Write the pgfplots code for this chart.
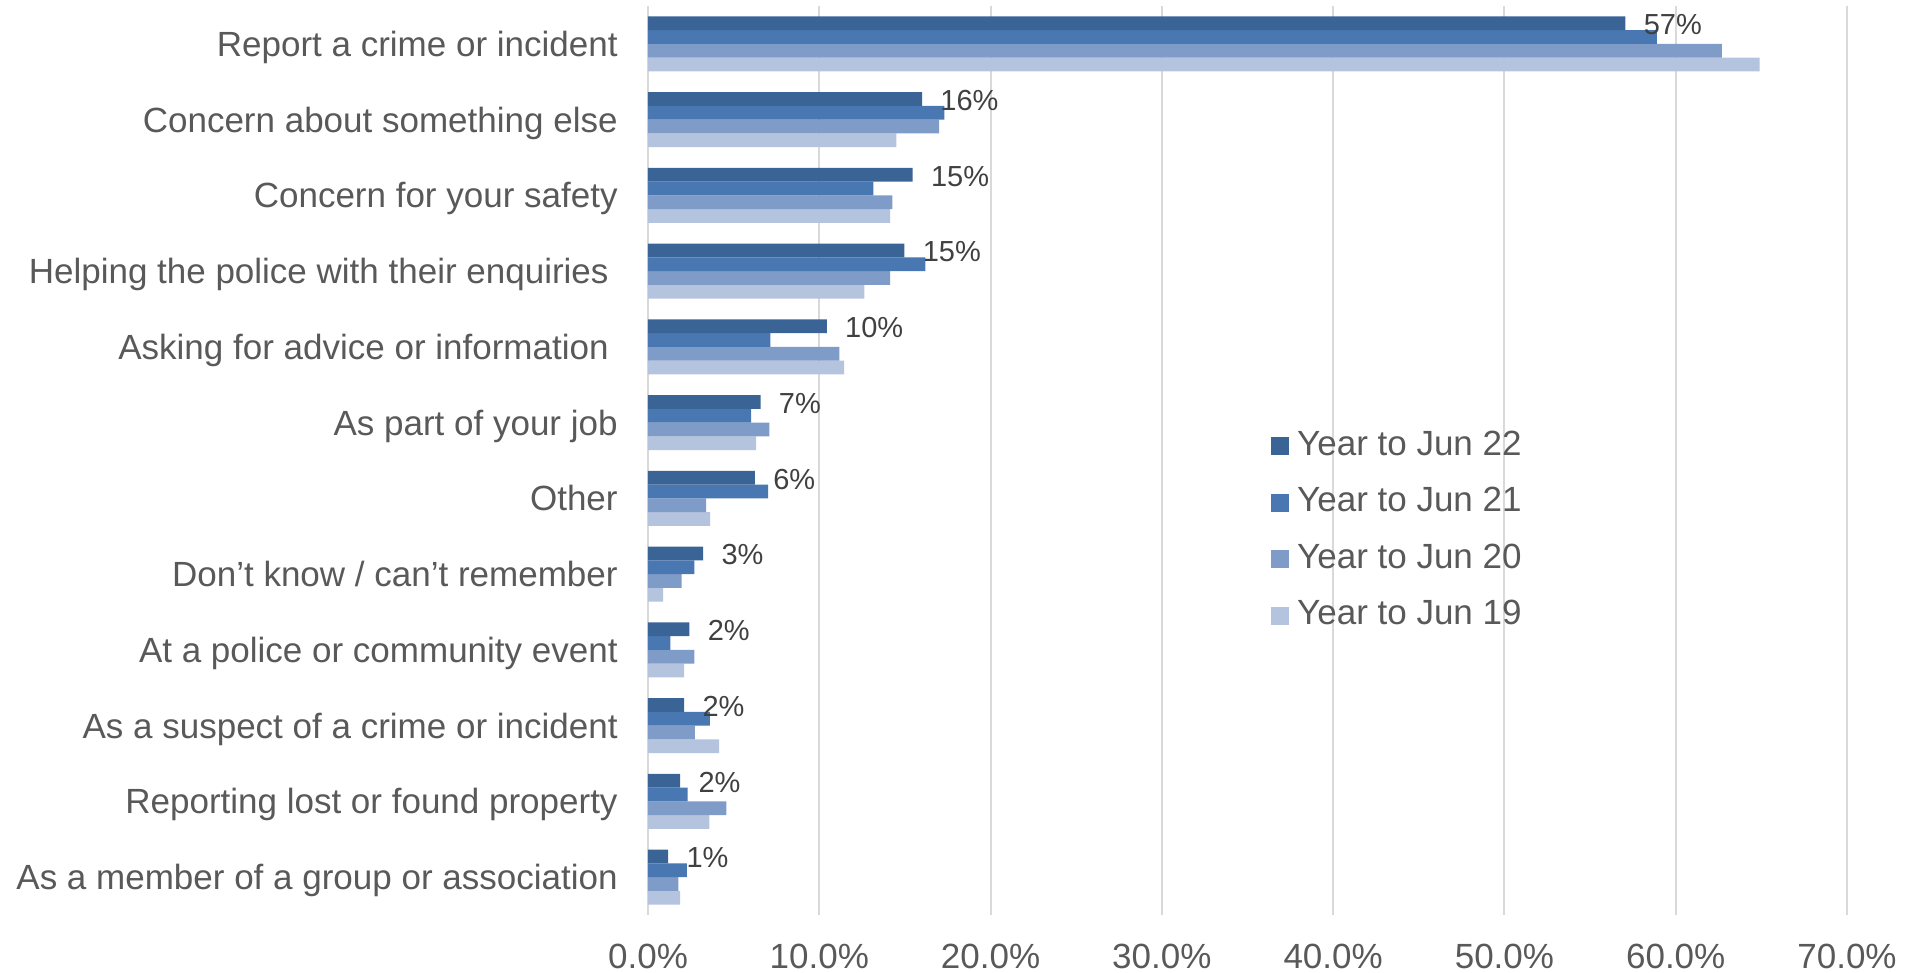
\documentclass[border=0pt]{standalone}
\usepackage{fontspec}
\setmainfont{Liberation Sans}
\usepackage{pgfplots}
\pgfplotsset{compat=1.18}
\definecolor{c22}{HTML}{3B6496}
\definecolor{c21}{HTML}{4877B1}
\definecolor{c20}{HTML}{7F9BC8}
\definecolor{c19}{HTML}{B4C3DE}
\definecolor{txt}{HTML}{595959}
\definecolor{lbl}{HTML}{404040}
\definecolor{gridc}{HTML}{D9D9D9}
\newcommand\bigf{\fontsize{17.5pt}{21pt}\selectfont}
\newcommand\lblf{\fontsize{14.5pt}{17pt}\selectfont}
\begin{document}
\begin{tikzpicture}
\useasboundingbox (-324pt,-29pt) rectangle (633pt,457.5pt);
\begin{axis}[
  at={(0pt,0pt)}, anchor=south west,
  scale only axis, width=599.5pt, height=454.5pt,
  xmin=0, xmax=70, ymin=-0.5, ymax=11.5,
  xbar=0pt, bar width=6.85pt,
  xtick={0,10,...,70},
  xticklabels={0.0\%,10.0\%,20.0\%,30.0\%,40.0\%,50.0\%,60.0\%,70.0\%},
  ytick={0,...,11},
  yticklabels={As a member of a group or association,Reporting lost or found property,As a suspect of a crime or incident,At a police or community event,Don’t know / can’t remember,Other,As part of your job,Asking for advice or information\kern4.5pt,Helping the police with their enquiries\kern4.5pt,Concern for your safety,Concern about something else,Report a crime or incident},
  tick label style={font=\bigf, text=txt},
  xticklabel style={anchor=base, inner sep=0pt, yshift=-26.5pt},
  yticklabel style={anchor=base east, inner sep=0pt, xshift=-15pt, yshift=-6.3pt},
  major tick length=0pt, tick style={draw=none},
  axis line style={draw=none},
  xmajorgrids, grid style={draw=gridc, line width=1pt},
  legend style={at={(axis description cs:0.5196,0.5347)}, anchor=north west,
    draw=none, fill=none, font=\bigf, text=txt, inner sep=0pt,
    row sep=11.25pt, column sep=3.9pt,
    nodes={inner sep=0pt, text height=13pt, text depth=4pt}},
  legend cell align=left,
  reverse legend,
  legend image code/.code={\fill[#1] (0pt,-4.5pt) rectangle (9pt,4.5pt);},
]
\addplot[fill=c19, draw=none] coordinates {
(1.87,0) (3.59,1) (4.16,2) (2.11,3) (0.89,4) (3.63,5) (6.31,6) (11.45,7) (12.64,8) (14.14,9) (14.5,10) (64.9,11)};
\addlegendentry{Year to Jun 19}
\addplot[fill=c20, draw=none] coordinates {
(1.78,0) (4.58,1) (2.73,2) (2.71,3) (1.97,4) (3.40,5) (7.09,6) (11.18,7) (14.14,8) (14.27,9) (17.0,10) (62.7,11)};
\addlegendentry{Year to Jun 20}
\addplot[fill=c21, draw=none] coordinates {
(2.27,0) (2.31,1) (3.61,2) (1.31,3) (2.71,4) (7.01,5) (6.02,6) (7.15,7) (16.2,8) (13.16,9) (17.3,10) (58.9,11)};
\addlegendentry{Year to Jun 21}
\addplot[fill=c22, draw=none,
  point meta=explicit symbolic,
  nodes near coords={\pgfplotspointmeta\%},
  every node near coord/.append style={font=\lblf, text=lbl, anchor=base west, inner sep=0pt, xshift=9pt, yshift=-5.6pt}] coordinates {
(1.18,0) [1] (1.88,1) [2] (2.11,2) [2] (2.42,3) [2] (3.22,4) [3] (6.24,5) [6] (6.57,6) [7] (10.44,7) [10] (14.97,8) [15] (15.45,9) [15] (16.0,10) [16] (57.06,11) [57]};
\addlegendentry{Year to Jun 22}
\end{axis}
\end{tikzpicture}
\end{document}
